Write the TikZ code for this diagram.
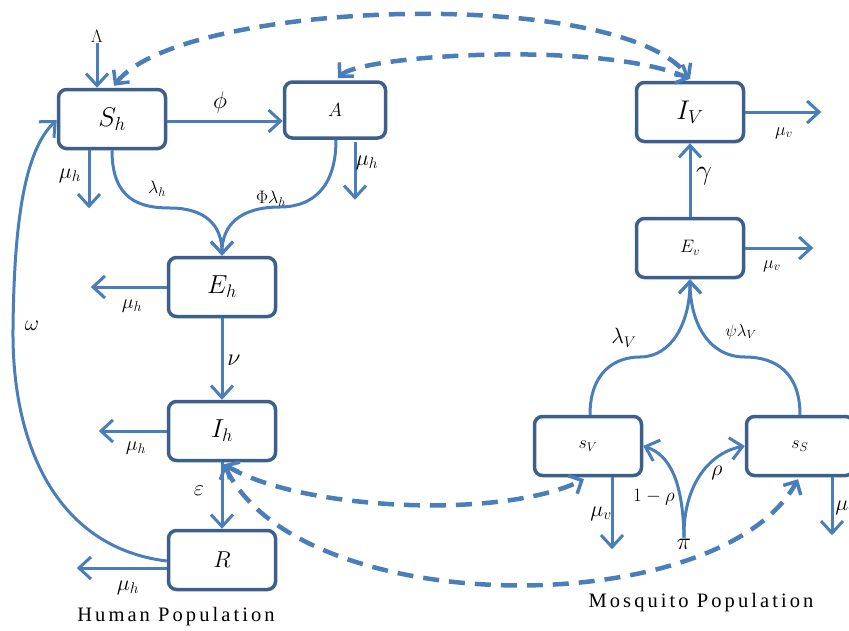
\RequirePackage{fix-cm}
\documentclass[tikz,border=0pt]{standalone}
\usepackage{fontspec}
\setmainfont{Liberation Serif}
\newfontfamily\capfont[LetterSpace=15]{Liberation Serif}
\usetikzlibrary{arrows.meta,calc}
\definecolor{boxc}{RGB}{60,95,140}
\definecolor{arrc}{RGB}{74,126,187}
\newcommand{\fs}[1]{\fontsize{#1}{#1}\selectfont}
\begin{document}
\begin{tikzpicture}[x=1pt,y=-1pt,
  box/.style={draw=boxc, line width=3.5pt, rounded corners=8pt, fill=white,
    minimum width=107pt, minimum height=59pt, inner sep=0pt},
  tip/.tip={Straight Barb[length=12pt,width=22pt,line width=3pt]},
  dtip/.tip={Straight Barb[length=10pt,width=20pt,line width=3.5pt]},
  flow/.style={draw=arrc, line width=3pt, -{tip}},
  dflow/.style={draw=arrc, line width=4.5pt, dash pattern=on 16pt off 10pt, {dtip}-{dtip}},
  lab/.style={inner sep=1pt}]
\useasboundingbox (0,0) rectangle (849,630);
% boxes
\node[box,font=\fs{27}] (Sh) at (112,119) {$S_{h}$};
\node[box,font=\fs{19},minimum width=101pt,minimum height=56pt] (A) at (335,110) {$A$};
\node[box,font=\fs{27}] (Iv) at (690,112) {$I_{V}$};
\node[box,font=\fs{18}] (Ev) at (690,248) {$E_{v}$};
\node[box,font=\fs{26}] (Eh) at (222,287) {$E_{h}$};
\node[box,font=\fs{26}] (Ih) at (222,431) {$I_{h}$};
\node[box,font=\fs{23}] (R) at (222,560) {$R$};
\node[box,font=\fs{18}] (Sv) at (588,446) {$s_{V}$};
\node[box,font=\fs{18}] (Ss) at (800,446) {$s_{S}$};
% Lambda
\node[lab,font=\fs{18}] (Lam) at (97,36) {$\Lambda$};
\draw[flow] (Lam.south) -- (Lam |- Sh.north);
% dashed top curves
\draw[dflow] ($(Sh.north)+(2,-2)$) .. controls (180,0) and (620,-15) .. ($(Iv.north)+(0,-2)$);
\draw[dflow] ($(A.north)+(3,-2)$) .. controls (360,55) and (600,40) .. ($(Iv.north)+(0,-2)$);
% S_h -> A
\draw[flow] ($(Sh.east)+(0,2)$) -- ($(A.west)+(0,11)$);
\node[lab,font=\fs{24}] (phi) at (220,102) {$\phi$};
% mu_h from S_h and A
\draw[flow] ($(Sh.south)+(-23,0)$) -- ++(0,58);
\node[lab,font=\fs{22}] (m1) at (70,176) {$\mu_{h}$};
\draw[flow] ($(A.south)+(20,2)$) -- ++(0,58);
\node[lab,font=\fs{22}] (m2) at (367,163) {$\mu_{h}$};
% infection curves
\draw[flow] (Sh.south) .. controls (112,200) and (140,208) .. (170,208)
  .. controls (205,208) and (222,225) .. (Eh.north);
\draw[flow] ($(A.south)+(1,0)$) .. controls (336,195) and (305,207) .. (280,207)
  .. controls (240,207) and (222,225) .. (Eh.north);
\node[lab,font=\fs{18}] (lh) at (157,189) {$\lambda_{h}$};
\node[lab,font=\fs{18}] (plh) at (271,199) {$\Phi\lambda_{h}$};
% E_h
\draw[flow] (Eh.west) -- ++(-76,0);
\node[lab,font=\fs{20}] (m3) at (132,306) {$\mu_{h}$};
\draw[flow] (Eh.south) -- (Ih.north);
\node[lab,font=\fs{24}] (nu) at (234,360) {$\nu$};
% I_h
\draw[flow] (Ih.west) -- ++(-68,0);
\node[lab,font=\fs{20}] (m4) at (136,448) {$\mu_{h}$};
\draw[flow] (Ih.south) -- (R.north);
\node[lab,font=\fs{22}] (eps) at (199,491) {$\varepsilon$};
% R
\draw[flow] ($(R.west)+(0,8)$) -- ++(-90,0);
\node[lab,font=\fs{22}] (m5) at (128,588) {$\mu_{h}$};
\draw[flow] ($(R.west)+(0,1)$) .. controls (60,548) and (12,450) .. (13,330)
  .. controls (14,220) and (25,150) .. ($(Sh.west)+(0,1)$);
\node[lab,font=\fs{22}] (om) at (32,326) {$\omega$};
% dashed bottom curves
\draw[dflow] ($(Ih.south)+(2,2)$) .. controls (300,510) and (500,520) .. ($(Sv.south)+(-4,2)$);
\draw[dflow] ($(Ih.south)+(2,2)$) .. controls (300,622) and (720,622) .. ($(Ss.south)+(-2,2)$);
% mosquito part
\draw[flow] ($(Sv.south)+(24,0)$) -- ++(0,72);
\node[lab,font=\fs{22}] (m6) at (601,514) {$\mu_{v}$};
\draw[flow] ($(Ss.south)+(32,0)$) -- ++(0,58);
\node[lab,font=\fs{22}] (m7) at (846,508) {$\mu_{v}$};
\node[lab,font=\fs{24}] (pi) at (684,544) {$\pi$};
\draw[flow] (pi.north) .. controls (683,482) and (670,455) .. (Sv.east);
\draw[flow] (pi.north) .. controls (683,482) and (712,452) .. (Ss.west);
\node[lab,font=\fs{19}] (omr) at (654,497) {$1-\rho$};
\node[lab,font=\fs{22}] (rho) at (717,473) {$\rho$};
\draw[flow] ($(Sv.north)+(2,0)$) .. controls (590,372) and (615,357) .. (640,357)
  .. controls (672,357) and (690,322) .. (Ev.south);
\draw[flow] (Ss.north) .. controls (800,372) and (775,357) .. (745,357)
  .. controls (708,357) and (690,322) .. (Ev.south);
\node[lab,font=\fs{22}] (lv) at (624,338) {$\lambda_{V}$};
\node[lab,font=\fs{17}] (plv) at (741,332) {$\psi\lambda_{V}$};
\draw[flow] (Ev.north) -- (Iv.south);
\node[lab,font=\fs{28}] (gam) at (704,176) {$\gamma$};
\draw[flow] (Iv.east) -- ++(76,0);
\node[lab,font=\fs{18}] (m8) at (784,133) {$\mu_{v}$};
\draw[flow] (Ev.east) -- ++(68,0);
\node[lab,font=\fs{18}] (m9) at (772,266) {$\mu_{v}$};
% captions
\node[lab,font=\capfont\fs{20.5}] (hp) at (176,617) {Human Population};
\node[lab,font=\capfont\fs{20.5}] (mp) at (701,603) {Mosquito Population};
\end{tikzpicture}
\end{document}
